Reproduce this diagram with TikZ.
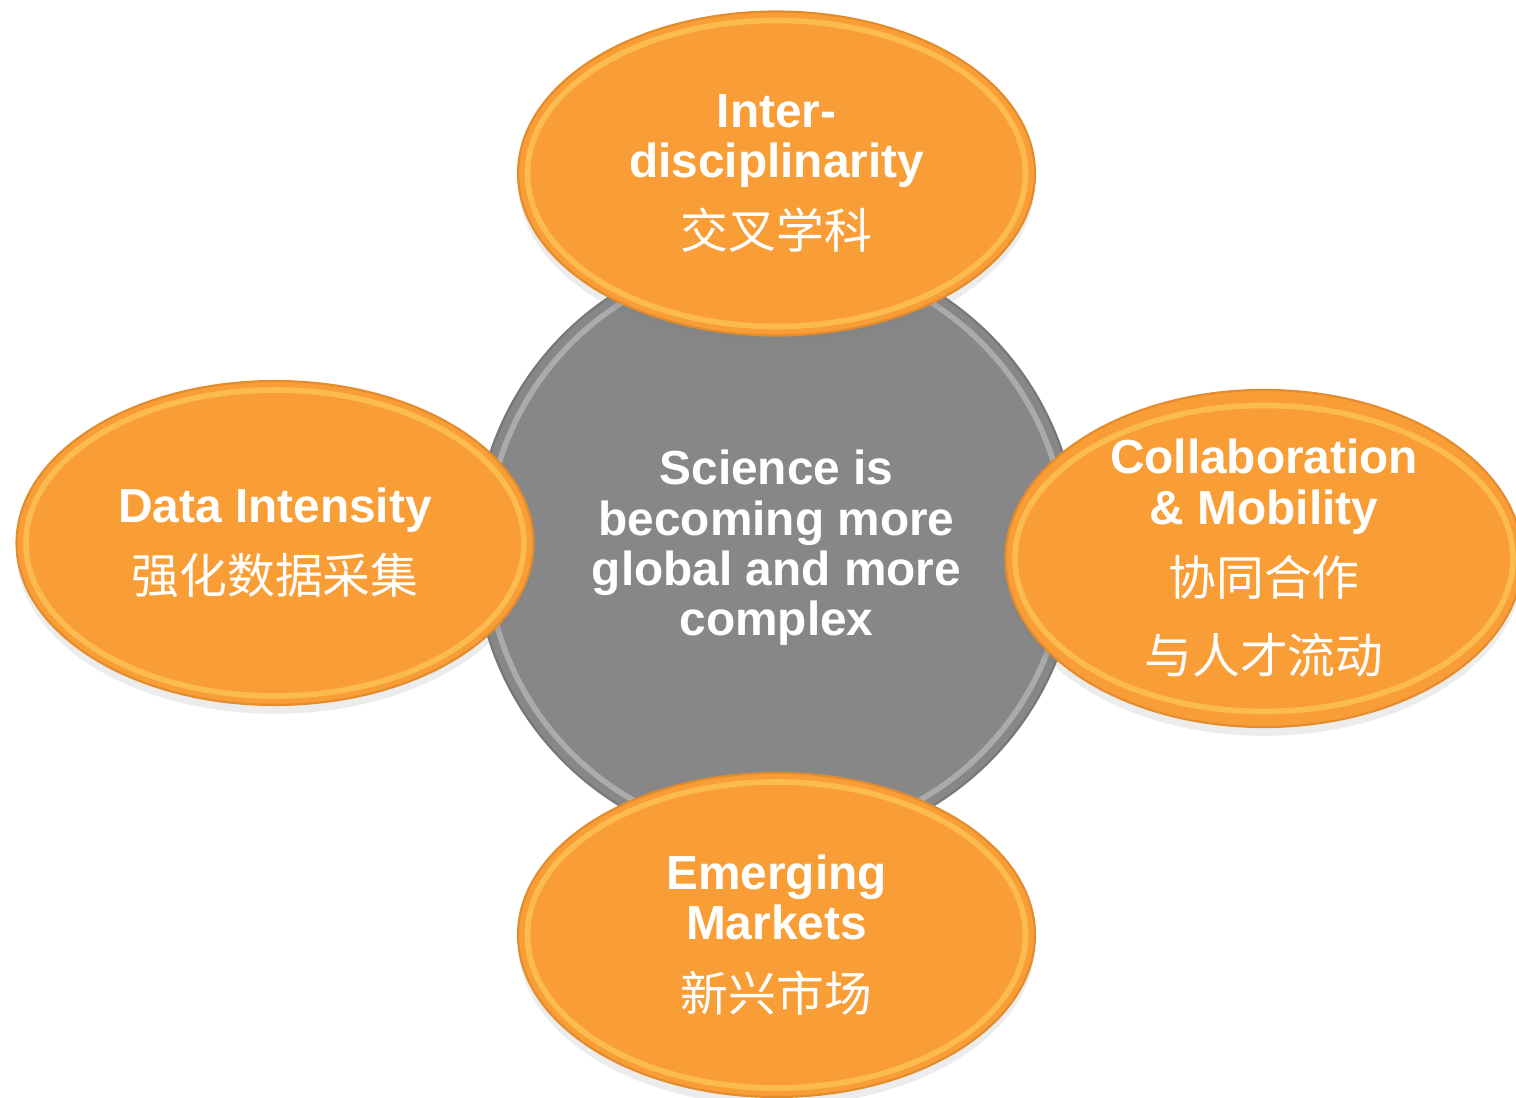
\documentclass[tikz,border=0pt]{standalone}
\usepackage{fontspec}
\setmainfont{Liberation Sans}
\newfontfamily\cjk{Noto Sans CJK SC}
\usetikzlibrary{shapes.geometric}
\usetikzlibrary{shadows}

\definecolor{petal}{HTML}{F99E36}
\definecolor{petalrim}{HTML}{E38C2E}
\definecolor{petalglow}{HTML}{FFD96A}
\definecolor{hub}{HTML}{878787}
\definecolor{hubrim}{HTML}{777777}
\definecolor{hubglow}{HTML}{C4C4C4}

\begin{document}
\begin{tikzpicture}[
    petal/.style={ellipse, fill=petal, draw=petalrim, line width=.6pt,
      minimum width=5.17cm, minimum height=3.24cm, inner sep=0pt,
      text=white, align=center, font=\fontsize{13.6}{14.3}\selectfont\bfseries,
      drop shadow={opacity=.15, shadow xshift=0pt, shadow yshift=-2.5pt},
      path picture={\draw[petalglow, line width=1.6pt, opacity=.5]
        (path picture bounding box.center) ellipse [x radius=2.49cm, y radius=1.53cm];}},
    hub/.style={circle, fill=hub, draw=hubrim, line width=.6pt,
      minimum size=6.03cm, inner sep=0pt,
      text=white, align=center, font=\fontsize{13.6}{14.3}\selectfont\bfseries,
      path picture={\draw[hubglow, line width=1.6pt, opacity=.6]
        (path picture bounding box.center) circle [radius=2.9cm];}}
  ]
  \useasboundingbox (0,0) rectangle (15.16,10.97);

  %% centre disc, drawn first so the petals sit on top
  \node[hub] (core) at (7.765,5.49) {Science is\\becoming more\\global and more\\complex};

  \node[petal] (inter) at (7.765,9.235) {Inter-\\disciplinarity\\[5pt]{\cjk\mdseries 交叉学科}};
  \node[petal] (data) at (2.75,5.54) {Data Intensity\\[6pt]{\cjk\mdseries 强化数据采集}};
  \node[petal] (collab) at (12.64,5.385) {Collaboration\\\& Mobility\\[6pt]{\cjk\mdseries 协同合作}\\[8pt]{\cjk\mdseries 与人才流动}};
  \node[petal] (markets) at (7.765,1.62) {Emerging\\Markets\\[6pt]{\cjk\mdseries 新兴市场}};
\end{tikzpicture}
\end{document}
